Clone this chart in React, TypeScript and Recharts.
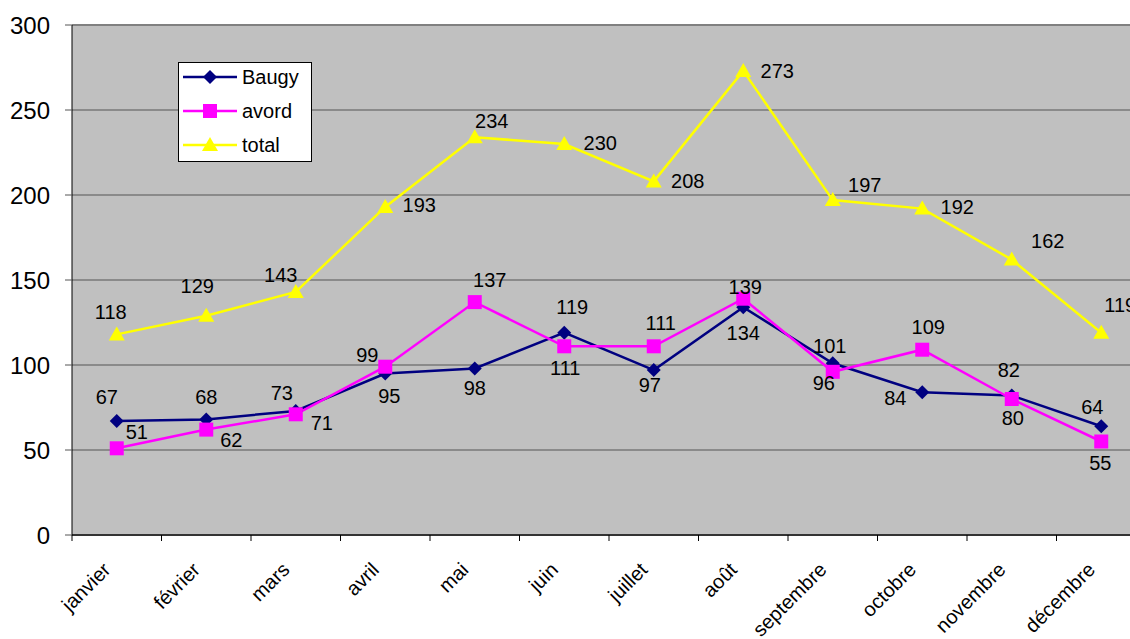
import { LineChart, Line, XAxis, YAxis, CartesianGrid, LabelList, ReferenceLine } from 'recharts'

const months = ['janvier', 'février', 'mars', 'avril', 'mai', 'juin', 'juillet', 'août', 'septembre', 'octobre', 'novembre', 'décembre']
const baugy = [67, 68, 73, 95, 98, 119, 97, 134, 101, 84, 82, 64]
const avord = [51, 62, 71, 99, 137, 111, 111, 139, 96, 109, 80, 55]
const total = [118, 129, 143, 193, 234, 230, 208, 273, 197, 192, 162, 119]
const yTicks = [0, 50, 100, 150, 200, 250, 300]

// label nudges (dx, dy) from each point, as placed by hand in the original
const baugyLabelPos = [[-10, -24], [0, -22], [-14, -18], [4, 22], [0, 20], [8, -26], [-4, 15], [0, 26], [-3, -17], [-27, 6], [-3, -26], [-9, -19]]
const avordLabelPos = [[20, -16], [25, 10], [26, 9], [-18, -12], [15, -22], [1, 22], [7, -23], [2, -12], [-9, 11], [6, -23], [1, 19], [-1, 21]]
const totalLabelPos = [[-6, -22], [-9, -30], [-15, -17], [34, -2], [17, -16], [36, -1], [34, 0], [34, 0], [32, -15], [35, -2], [36, -19], [19, -28]]

const data = months.map((m, i) => ({ month: m, baugy: baugy[i], avord: avord[i], total: total[i] }))

const font = 'Arial, "Liberation Sans", sans-serif'
const NAVY = '#000080'
const PINK = '#FF00FF'
const YELLOW = '#FFFF00'
const HALF_BAND = 44.75

const Diamond = ({ cx, cy }: any) => <path d={`M${cx},${cy - 7}L${cx + 7},${cy}L${cx},${cy + 7}L${cx - 7},${cy}Z`} fill={NAVY} />
const Square = ({ cx, cy }: any) => <rect x={cx - 7} y={cy - 7} width={14} height={14} fill={PINK} />
const Triangle = ({ cx, cy }: any) => <path d={`M${cx},${cy - 8}L${cx + 8},${cy + 6}L${cx - 8},${cy + 6}Z`} fill={YELLOW} />

const makeLabel = (pos: number[][]) => (props: any) => {
  const { x, y, value, index } = props
  const [dx, dy] = pos[index] || [0, -20]
  return (
    <text x={x + dx} y={y + dy} textAnchor="middle" dominantBaseline="central" fontSize={20} fontFamily={font} fill="#000">
      {value}
    </text>
  )
}

const MonthTick = ({ x, y, payload }: any) => (
  <g>
    <line x1={x - HALF_BAND} y1={y - 6} x2={x - HALF_BAND} y2={y} stroke="#000" />
    <text x={x - 5} y={y + 30} textAnchor="end" fontSize={20} fontFamily={font} fill="#000" transform={`rotate(-45, ${x - 5}, ${y + 30})`}>
      {payload.value}
    </text>
  </g>
)

const legendItems = [
  { name: 'Baugy', color: NAVY, Mark: Diamond },
  { name: 'avord', color: PINK, Mark: Square },
  { name: 'total', color: YELLOW, Mark: Triangle },
]

const LegendBox = () => (
  <svg width={134} height={100} style={{ position: 'absolute', left: 178, top: 62 }}>
    <rect x={0.5} y={0.5} width={133} height={99} fill="#fff" stroke="#000" />
    {legendItems.map(({ name, color, Mark }, i) => {
      const cy = 15 + i * 34
      return (
        <g key={name}>
          <line x1={5} y1={cy} x2={59} y2={cy} stroke={color} strokeWidth={2.5} />
          <Mark cx={32} cy={cy} />
          <text x={64} y={cy} dominantBaseline="central" fontSize={20} fontFamily={font} fill="#000">{name}</text>
        </g>
      )
    })}
  </svg>
)

export default function App() {
  return (
    <div style={{ position: 'absolute', left: 0, top: 0, width: 1130, height: 639, overflow: 'hidden', background: '#fff' }}>
      <LineChart width={1160} height={639} data={data} margin={{ top: 25, right: 14, bottom: 0, left: 0 }}>
        <CartesianGrid vertical={false} fill="#C0C0C0" stroke="#555" />
        <ReferenceLine y={300} stroke="#808080" strokeWidth={2} />
        <XAxis
          dataKey="month" height={104} padding={{ left: HALF_BAND, right: HALF_BAND }}
          axisLine={{ stroke: '#333', strokeWidth: 2 }} tickLine={false} tickSize={6} tickMargin={0}
          interval={0} tick={<MonthTick />}
        />
        <YAxis
          width={72} domain={[0, 300]} ticks={yTicks} interval={0}
          axisLine={{ stroke: '#000' }} tickLine={{ stroke: '#555' }} tickSize={7} tickMargin={15}
          tick={{ fill: '#000', fontSize: 24, fontFamily: font }}
        />
        <Line dataKey="baugy" name="Baugy" stroke={NAVY} strokeWidth={2.5} dot={<Diamond />} activeDot={false} isAnimationActive={false}>
          <LabelList dataKey="baugy" content={makeLabel(baugyLabelPos)} />
        </Line>
        <Line dataKey="avord" name="avord" stroke={PINK} strokeWidth={2.5} dot={<Square />} activeDot={false} isAnimationActive={false}>
          <LabelList dataKey="avord" content={makeLabel(avordLabelPos)} />
        </Line>
        <Line dataKey="total" name="total" stroke={YELLOW} strokeWidth={2.5} dot={<Triangle />} activeDot={false} isAnimationActive={false}>
          <LabelList dataKey="total" content={makeLabel(totalLabelPos)} />
        </Line>
      </LineChart>
      <LegendBox />
    </div>
  )
}
